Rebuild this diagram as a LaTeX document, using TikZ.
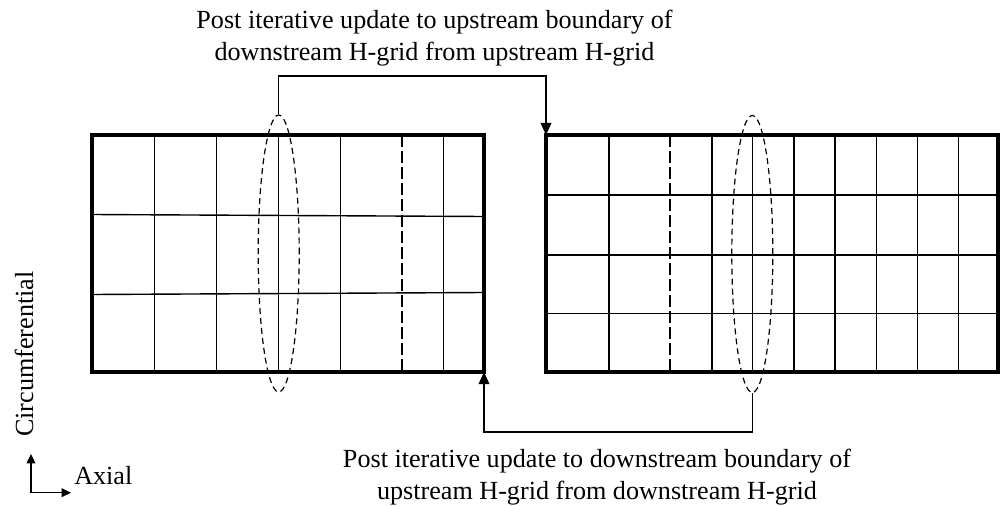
\documentclass[tikz,border=0pt]{standalone}
\usepackage{fontspec}
\setmainfont{Liberation Serif}
\usetikzlibrary{arrows.meta,shapes.geometric}

\begin{document}
\begin{tikzpicture}[x=0.75pt,y=-0.75pt,
  gridbox/.style={line width=2.4pt},
  cell/.style={line width=1.05pt},
  cut/.style={line width=1.05pt, dash pattern=on 9pt off 3pt},
  probe/.style={ellipse, draw, line width=0.9pt, dash pattern=on 4.5pt off 3pt,
    inner sep=0pt, minimum width=30.75pt, minimum height=207.75pt},
  link/.style={line width=1pt, -{Triangle[length=9pt,width=8pt]}},
  axis/.style={line width=1pt, -{Triangle[length=7pt,width=6.5pt]}},
  lbl/.style={font=\fontsize{19.6}{24}\selectfont, inner sep=0pt, align=center}]

% ============================================================
% 参数区
% ============================================================

\def\Top{135}     % 网格上边
\def\Bot{372}     % 网格下边
\def\UpL{92}      % 上游网格左边
\def\UpR{484}     % 上游网格右边
\def\DnL{546}     % 下游网格左边
\def\DnR{998}     % 下游网格右边

\useasboundingbox (0,0) rectangle (1005,506);

% ============================================================
% 上游 H-grid
% ============================================================

\foreach \x in {154.7,216.7,278.7,340.7,443.3} {
  \draw[cell] (\x,\Top) -- (\x,\Bot);
}
\draw[cell] (\UpL,214.5) -- (\UpR,216.5);
\draw[cell] (\UpL,294.5) -- (\UpR,292.5);
\draw[cut] (402,\Top) -- (402,\Bot);

\draw[gridbox] (\UpL,\Top) rectangle (\UpR,\Bot);
\coordinate (upSE) at (\UpR,\Bot);

% ============================================================
% 下游 H-grid
% ============================================================

\foreach \x in {609,712,752.3,794,835,876.7,917.3,958.3} {
  \draw[cell] (\x,\Top) -- (\x,\Bot);
}
\foreach \y in {195,255,313.5} {
  \draw[cell] (\DnL,\y) -- (\DnR,\y);
}
\draw[cut] (670,\Top) -- (670,\Bot);

\draw[gridbox] (\DnL,\Top) rectangle (\DnR,\Bot);
\coordinate (dnNW) at (\DnL,\Top);

% ============================================================
% 交界面与传递箭头
% ============================================================

\node[probe] (probeUp) at (278.7,253.5) {};
\node[probe] (probeDn) at (752.3,254) {};

\coordinate (topBend) at (\DnL,76);
\coordinate (botBend) at (\UpR,432);

\draw[link] (probeUp.north) |- (topBend) -- (dnNW);
\draw[link] (probeDn.south) |- (botBend) -- (upSE);

\node[lbl, anchor=north] (noteTop) at (434.5,10)
  {Post iterative update to upstream boundary of\\downstream H-grid from upstream H-grid};
\node[lbl, anchor=north] (noteBot) at (597,449)
  {Post iterative update to downstream boundary of\\upstream H-grid from downstream H-grid};

% ============================================================
% 坐标方向
% ============================================================

\coordinate (axO) at (31,492.7);
\coordinate (axUp) at (31,454);
\coordinate (axRt) at (71,492.7);
\draw[axis] (axO) -- (axUp);
\draw[axis] (axO) -- (axRt);

\node[lbl, anchor=base west] (axial) at (74,484) {Axial};
\node[lbl, rotate=90, anchor=base west] (circ) at (33,437) {Circumferential};

\end{tikzpicture}
\end{document}
